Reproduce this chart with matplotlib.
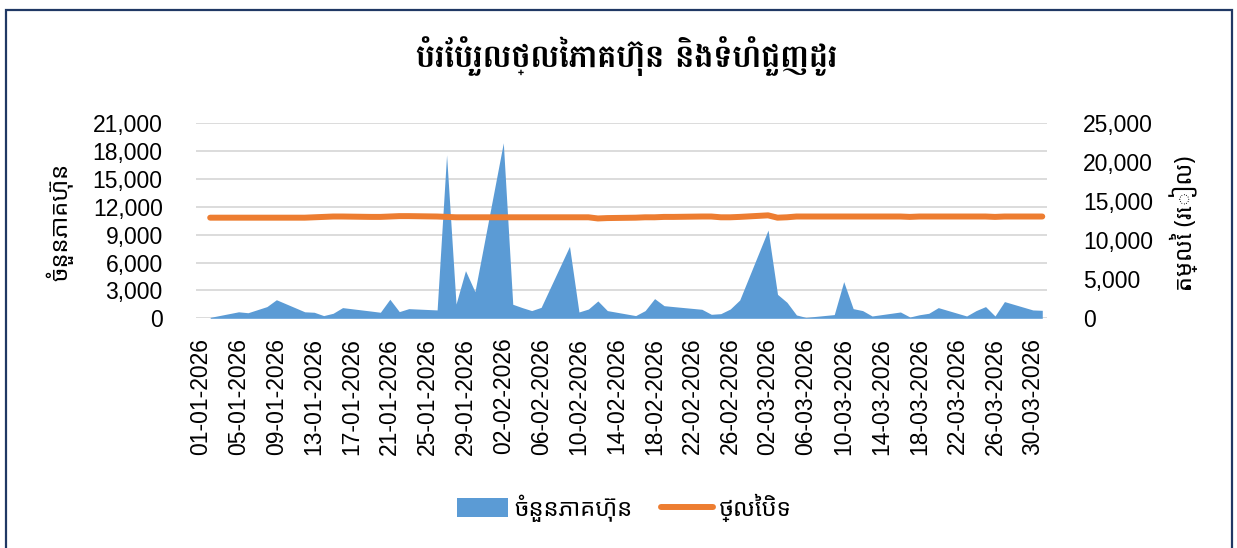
import matplotlib
matplotlib.use("Agg")
import matplotlib.pyplot as plt
import matplotlib.dates as mdates
from matplotlib import font_manager
from matplotlib.patches import Patch, Rectangle
from matplotlib.lines import Line2D
from matplotlib.ticker import FuncFormatter, MultipleLocator
import numpy as np
import datetime as dt

# ---- data ----
jan_days = [2, 5, 6, 8, 9, 12, 13, 14, 15, 16, 19, 20, 21, 22, 23, 26, 27, 28, 29, 30]
feb_days = [2, 3, 4, 5, 6, 9, 10, 11, 12, 13, 16, 17, 18, 19, 20, 23, 24, 25, 26, 27]
mar_days = [2, 3, 4, 5, 6, 9, 10, 11, 12, 13, 16, 17, 18, 19, 20, 23, 24, 25, 26, 27, 30, 31]

volume_jan = [100, 700, 600, 1260, 2000, 700, 650, 290, 540, 1150,
              780, 650, 2050, 720, 1040, 900, 17600, 1540, 5130, 2870]
volume_feb = [18900, 1510, 1150, 830, 1180, 7750, 680, 1000, 1870, 830,
              290, 830, 2120, 1360, 1260, 970, 430, 500, 1000, 1970]
volume_mar = [9500, 2580, 1720, 360, 100, 400, 3950, 1040, 830, 250,
              680, 140, 380, 540, 1150, 250, 830, 1260, 250, 1800, 900, 860]

close_jan = [12900, 12900, 12900, 12900, 12900, 12900, 12950, 13000, 13050, 13050,
             13000, 13000, 13050, 13100, 13100, 13050, 13000, 12950, 12950, 12950]
close_feb = [12950, 12950, 12950, 12950, 12950, 12950, 12950, 12950, 12800, 12850,
             12900, 12950, 12950, 13000, 13000, 13050, 13050, 12950, 12950, 13000]
close_mar = [13200, 12900, 12950, 13050, 13050, 13050, 13050, 13050, 13050, 13050,
             13050, 13000, 13050, 13050, 13050, 13050, 13050, 13050, 13000, 13050, 13050, 13050]

title = "បំរែបំរួលថ្លៃភាគហ៊ុន និងទំហំជួញដូរ"
left_label = "ចំនួនភាគហ៊ុន"
right_label = "តម្លៃ (រៀល)"
legend_labels = ["ចំនួនភាគហ៊ុន", "ថ្លៃបិទ"]

dates = ([dt.date(2026, 1, d) for d in jan_days] +
         [dt.date(2026, 2, d) for d in feb_days] +
         [dt.date(2026, 3, d) for d in mar_days])
volume = volume_jan + volume_feb + volume_mar
close = close_jan + close_feb + close_mar

# ---- fonts ----
fonts = font_manager.fontManager.ttflist
installed = {f.name for f in fonts}
wanted = ["Noto Sans Khmer", "Battambang", "Hanuman", "Kantumruy Pro", "Content", "Khmer"]
khmer = [n for n in wanted if n in installed][:1]
# a Khmer family that really has a bold face, for the title
bold_kh = [n for n in wanted
           if any(f.name == n and f.weight in (600, 700, 800, "bold", "semibold") for f in fonts)][:1]
num_font = ["Liberation Sans", "DejaVu Sans"]
kh_font = khmer + num_font
title_font = (bold_kh or khmer) + num_font
plt.rcParams["font.family"] = num_font

blue = "#5B9BD5"
orange = "#ED7D31"

W, H = 1237, 548
fig = plt.figure(figsize=(W / 100, H / 100), dpi=100)
fig.patch.set_facecolor("white")

x0, x1, ytop, ybot = 196, 1047, 123.3, 318.3
ax = fig.add_axes([x0 / W, 1 - ybot / H, (x1 - x0) / W, (ybot - ytop) / H])
ax2 = ax.twinx()

x = mdates.date2num(dates)
ax.fill_between(x, volume, 0, color=blue, lw=0)
ax2.plot(x, close, color=orange, lw=4.3, solid_capstyle="round", solid_joinstyle="round")

start = mdates.date2num(dt.date(2026, 1, 1))
end = mdates.date2num(dt.date(2026, 3, 31))
ax.set_xlim(start - 0.5, end + 0.5)
ax.set_ylim(0, 21000)
ax2.set_ylim(0, 25000)

ax.set_xticks(np.arange(start, end + 1, 4))
ax.xaxis.set_major_formatter(mdates.DateFormatter("%d-%m-%Y"))
ax.yaxis.set_major_locator(MultipleLocator(3000))
ax2.yaxis.set_major_locator(MultipleLocator(5000))
fmt = FuncFormatter(lambda v, p: f"{int(v):,}")
ax.yaxis.set_major_formatter(fmt)
ax2.yaxis.set_major_formatter(fmt)

ax.tick_params(axis="x", length=0, pad=14, labelsize=16.5, rotation=90, colors="#000000")
ax.tick_params(axis="y", length=0, pad=24, labelsize=16.5)
ax2.tick_params(axis="y", length=0, pad=26, labelsize=16.5)

ax.grid(axis="y", color="#D9D9D9", lw=1.3)
ax.set_axisbelow(True)
for a in (ax, ax2):
    for s in a.spines.values():
        s.set_visible(False)

fig.text(60 / W, 1 - 222 / H, left_label, rotation=90, ha="center", va="center",
         fontsize=17, family=kh_font)
fig.text(1184 / W, 1 - 223 / H, right_label, rotation=90, ha="center", va="center",
         fontsize=17, family=kh_font)
fig.text(627 / W, 1 - 56 / H, title, ha="center", va="center", fontsize=23,
         fontweight="bold", family=title_font)

handles = [Patch(facecolor=blue, edgecolor="none"),
           Line2D([0], [0], color=orange, lw=4.3, solid_capstyle="round")]
fig.legend(handles, legend_labels, loc="center", bbox_to_anchor=(624 / W, 1 - 508 / H),
           ncol=2, frameon=False, prop={"family": kh_font, "size": 17},
           handlelength=2.2, handleheight=0.85, handletextpad=0.25, columnspacing=1.2)

fig.patches.append(Rectangle((6 / W, -0.1), 1226 / W, 1.1 - 10 / H, transform=fig.transFigure,
                             fill=False, edgecolor="#203864", lw=1.6))

fig.savefig("out.png", dpi=100)
